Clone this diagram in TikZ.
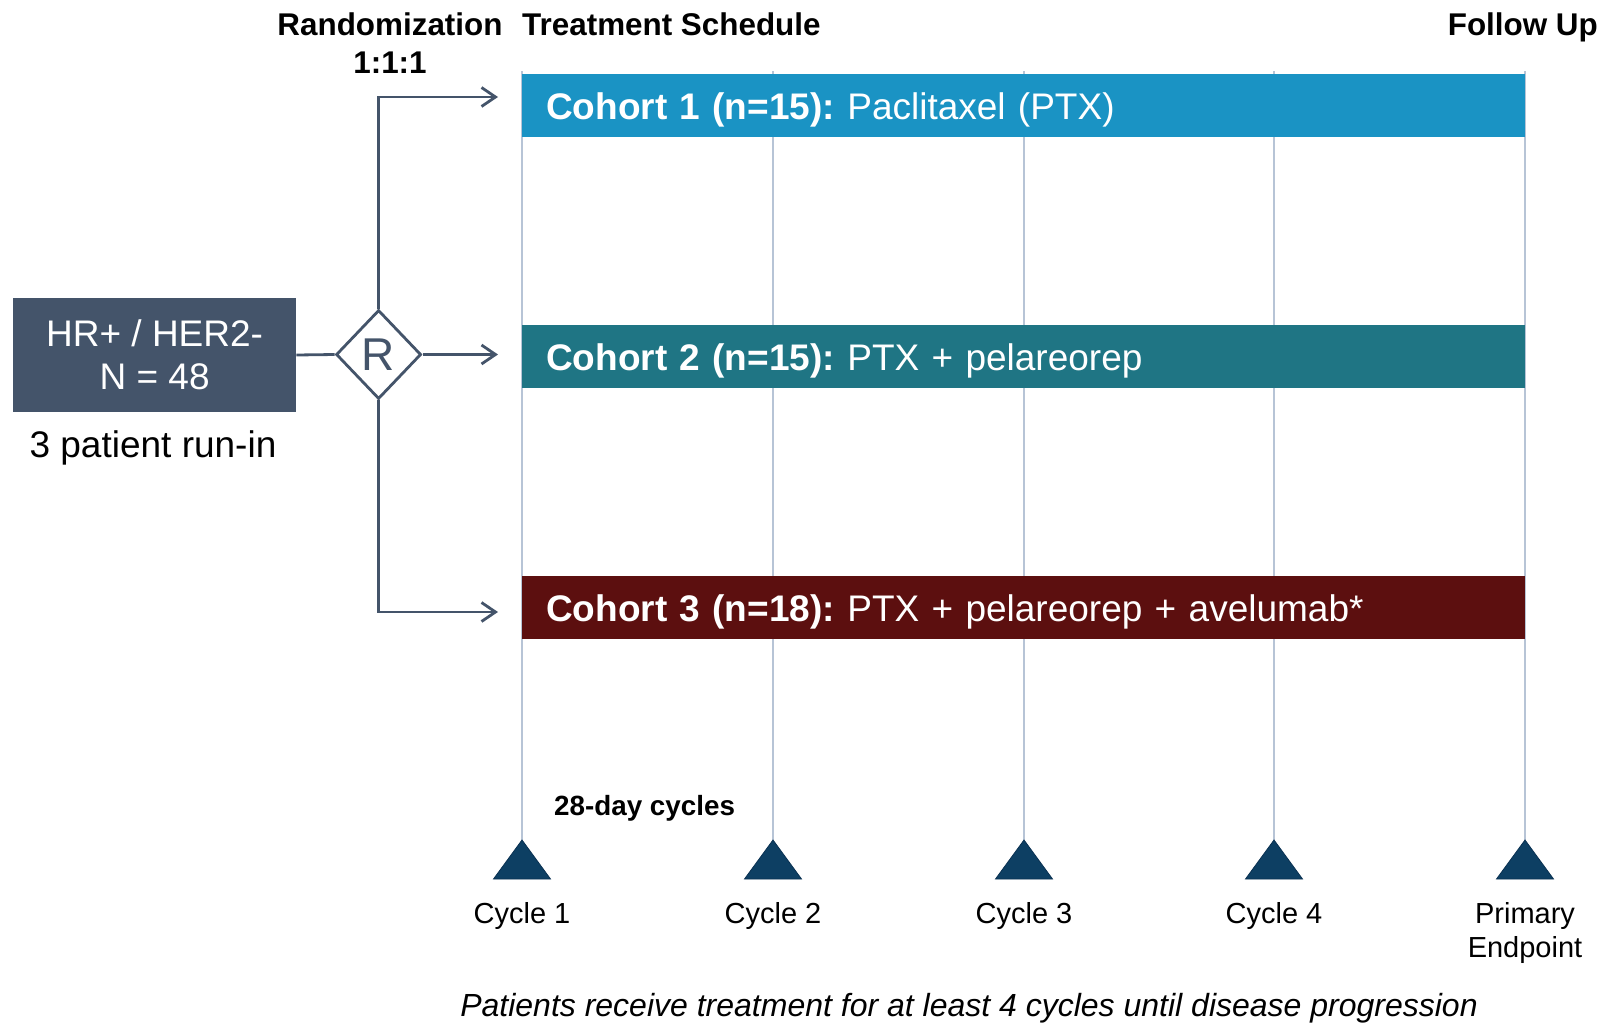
\documentclass[tikz,border=0pt]{standalone}
\usepackage{fontspec}
\setmainfont{Liberation Sans}
\usetikzlibrary{arrows.meta,shapes.geometric,positioning}
\frenchspacing

\definecolor{slate}{HTML}{44546A}
\definecolor{cohortblue}{HTML}{1A93C4}
\definecolor{cohortteal}{HTML}{1F7584}
\definecolor{cohortred}{HTML}{5C0F0F}
\definecolor{markerblue}{HTML}{0D3F63}
\definecolor{markerdark}{HTML}{0A3152}
\definecolor{gridline}{HTML}{B7C4D6}

\newcommand{\fsz}[2]{\fontsize{#1}{#2}\selectfont}

\begin{document}
\begin{tikzpicture}[x=1pt,y=-1pt,
  conn/.style={draw=slate,line width=2.8pt},
  arr/.style={conn,-{Straight Barb[length=14pt,width=19pt]}},
  cohort/.style={fill=#1,text=white,anchor=west,minimum height=63pt,text width=955pt,inner xsep=24pt,inner ysep=0pt,text height=28pt,text depth=0pt,align=left,font=\fsz{37}{44}},
  title/.style={font=\bfseries\fsz{31.4}{38},inner sep=0pt},
  cyc/.style={font=\fsz{29}{34},inner sep=0pt,anchor=base},
  grid/.style={draw=gridline,line width=1.3pt},
  marker/.style={fill=markerblue,draw=markerdark,line width=0.8pt}]

  \useasboundingbox (0,0) rectangle (1601,1023);

  % headings
  \node[title,anchor=base] (randtitle) at (390,35) {Randomization};
  \node[title,anchor=base] (ratio) at (390,73) {1:1:1};
  \node[title,anchor=base west] (treat) at (522,35) {Treatment Schedule};
  \node[title,anchor=base east] (follow) at (1598,35) {Follow Up};

  % cycle grid and markers
  \foreach \n/\x in {1/522,2/773,3/1024,4/1274,5/1525} {
    \coordinate (g\n) at (\x,71);
    \coordinate (t\n) at (\x,840);
    \draw[grid] (g\n) -- (t\n);
    \fill[marker] (t\n) -- ++(28.5,39) -- ++(-57,0) -- cycle;
  }

  % cohorts
  \node[cohort=cohortblue] (c1) at (522,105) {{\bfseries Cohort 1 (n=15):} Paclitaxel (PTX)};
  \node[cohort=cohortteal] (c2) at (522,356) {{\bfseries Cohort 2 (n=15):} PTX + pelareorep};
  \node[cohort=cohortred] (c3) at (522,607) {{\bfseries Cohort 3 (n=18):} PTX + pelareorep + avelumab*};

  % population and randomization
  \node[fill=slate,text=white,minimum width=283pt,minimum height=113.5pt,align=center,font=\fsz{37}{43}] (hr) at (154.6,355) {HR+ / HER2-\\N = 48};
  \node[font=\fsz{37}{43},inner sep=0pt,anchor=base] (runin) at (153,457) {3 patient run-in};
  \node[diamond,draw=slate,fill=white,line width=2.8pt,inner sep=0pt,minimum width=85pt,minimum height=89pt,text=slate,font=\fsz{46}{52}] (rand) at (378.6,354.5) {R};

  \coordinate (a1) at (498,97);
  \coordinate (a2) at (498,354.5);
  \coordinate (a3) at (498,612);

  \draw[conn] (hr.east) -- (rand.west);
  \draw[arr] (rand.east) -- (a2);
  \draw[arr] (rand.north) |- (a1);
  \draw[arr] (rand.south) |- (a3);

  % timeline labels
  \node[font=\bfseries\fsz{27.8}{32},inner sep=0pt,anchor=base west] (days) at (554,815) {28-day cycles};
  \node[cyc] (cy1) at (522,923) {Cycle 1};
  \node[cyc] (cy2) at (773,923) {Cycle 2};
  \node[cyc] (cy3) at (1024,923) {Cycle 3};
  \node[cyc] (cy4) at (1274,923) {Cycle 4};
  \node[cyc,anchor=north,align=center] (pe) at (1525,902) {Primary\\Endpoint};

  \node[font=\itshape\fsz{32}{38},inner sep=0pt,anchor=base] (note) at (969,1016.5) {Patients receive treatment for at least 4 cycles until disease progression};
\end{tikzpicture}
\end{document}
